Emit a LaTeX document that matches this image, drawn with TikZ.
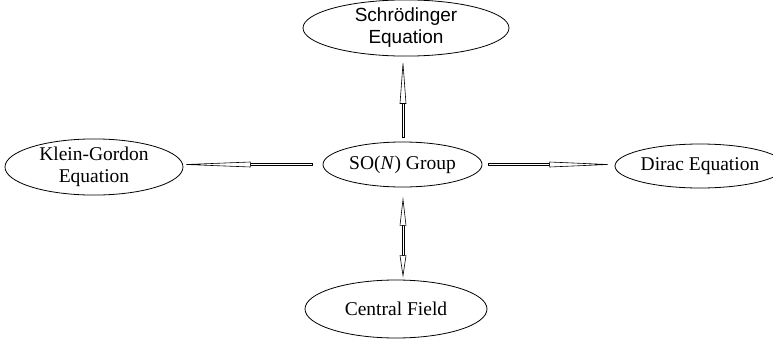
\documentclass[tikz,border=0pt]{standalone}
\usepackage{fontspec}
\setmainfont{Liberation Serif}
\newfontfamily\helv{Liberation Sans}
\usetikzlibrary{shapes.geometric,calc}

\begin{document}
\begin{tikzpicture}[x=1pt,y=1pt,
  oval/.style={draw, ellipse, line width=0.8pt, inner sep=0pt, align=center,
    font=\fontsize{19.5}{22}\selectfont},
  shaft/.style={draw=black, fill=white, line width=0.6pt},
  tiphead/.style={draw=black, fill=white, line width=0.6pt, line join=miter}]
\useasboundingbox (0,0) rectangle (773,-340);

% the five topics
\node[oval, minimum width=206, minimum height=54,
      font=\helv\fontsize{19}{22}\selectfont] (sch) at (406,-28) {Schrödinger\\Equation};
\node[oval, minimum width=178, minimum height=50] (kg) at (94,-167) {Klein-Gordon\\Equation};
\node[oval, minimum width=159, minimum height=45] (so) at (402.5,-164.5) {SO(\textit{N}) Group};
\node[oval, minimum width=170, minimum height=44] (dirac) at (700,-166) {Dirac Equation};
\node[oval, minimum width=182, minimum height=58] (cf) at (396,-309) {Central Field};

% up: group -> Schroedinger
\coordinate (u0) at ($(so.north)+(0.5,4)$);
\coordinate (u2) at ($(u0 |- sch.south)+(0,-7)$);
\coordinate (u1) at ($(u2)+(0,-40)$);
\draw[shaft] ($(u0)+(-1.2,0)$) rectangle ($(u1)+(1.2,0)$);
\draw[tiphead] ($(u1)+(-3,0)$) -- (u2) -- ($(u1)+(3,0)$) -- cycle;

% down: group <-> central field
\coordinate (d2) at ($(so.south)+(0.5,-12)$);
\coordinate (d3) at ($(d2 |- cf.north)+(0,4)$);
\coordinate (d1) at ($(d2)+(0,-26)$);
\coordinate (d4) at ($(d3)+(0,20)$);
\draw[shaft] ($(d1)+(-1.2,0)$) rectangle ($(d4)+(1.2,0)$);
\draw[tiphead] ($(d1)+(-3,0)$) -- (d2) -- ($(d1)+(3,0)$) -- cycle;
\draw[tiphead] ($(d4)+(-3,0)$) -- (d3) -- ($(d4)+(3,0)$) -- cycle;

% left: group -> Klein-Gordon
\coordinate (l0) at ($(so.west)+(-10,0)$);
\coordinate (l2) at ($(kg.east |- l0)+(3,0)$);
\coordinate (l1) at ($(l2)+(64,0)$);
\draw[shaft] ($(l0)+(0,1.2)$) rectangle ($(l1)+(0,-1.2)$);
\draw[tiphead] ($(l1)+(0,2.5)$) -- (l2) -- ($(l1)+(0,-2.5)$) -- cycle;

% right: group -> Dirac
\coordinate (r0) at ($(so.east)+(6,0)$);
\coordinate (r2) at ($(dirac.west |- r0)+(-7,0)$);
\coordinate (r1) at ($(r2)+(-58,0)$);
\draw[shaft] ($(r0)+(0,1.2)$) rectangle ($(r1)+(0,-1.2)$);
\draw[tiphead] ($(r1)+(0,2.5)$) -- (r2) -- ($(r1)+(0,-2.5)$) -- cycle;
\end{tikzpicture}
\end{document}
